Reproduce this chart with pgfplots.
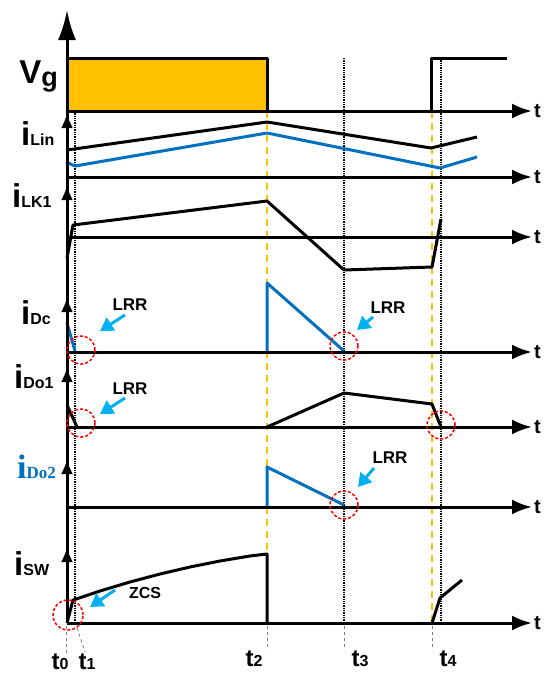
\documentclass[border=0pt]{standalone}
\usepackage{pgfplots}
\pgfplotsset{compat=1.18}
\usepackage{fontspec}
\setmainfont{Liberation Sans}
\newfontfamily\serifbf{Liberation Serif}
\usetikzlibrary{arrows.meta}
\definecolor{vorange}{HTML}{FFC000}
\definecolor{vblue}{HTML}{0070C0}
\definecolor{vcyan}{HTML}{00B0F0}
\newcommand\rowlab[2]{{\fontsize{33}{33}\selectfont\bfseries #1}{\fontsize{16}{16}\selectfont\bfseries #2}}
\newcommand\tlab[1]{{\fontsize{24}{24}\selectfont\bfseries t}{\fontsize{16}{16}\selectfont\bfseries #1}}
\begin{document}
\begin{tikzpicture}
\begin{axis}[hide axis, scale only axis, width=549pt, height=675pt,
  xmin=0, xmax=549, ymin=0, ymax=675, y dir=reverse, clip=false]
\path (0,0) -- (549,675);
% time markers
\draw[black, densely dotted, line width=1.3pt] (75,58) -- (75,623);
\draw[black, densely dotted, line width=1.3pt] (344,58) -- (344,623);
\draw[black, densely dotted, line width=1.3pt] (441,58) -- (441,623);
\draw[vorange, dash pattern=on 7pt off 5pt, line width=2pt] (267,111) -- (267,623);
\draw[vorange, dash pattern=on 7pt off 5pt, line width=2pt] (432,111) -- (432,623);
% bottom grey dashed
\draw[gray, dashed, line width=0.8pt] (66,626) -- (66,654);
\draw[gray, dashed, line width=0.8pt] (77,628) -- (85,652);
\draw[gray, dashed, line width=0.8pt] (267,626) -- (267,650);
\draw[gray, dashed, line width=0.8pt] (344,626) -- (344,650);
\draw[gray, dashed, line width=0.8pt] (432,626) -- (432,650);
% Vg
\addplot[draw=none, fill=vorange] coordinates {(67,111)(67,58)(267,58)(267,111)(67,111)};
\addplot[black, line width=3pt, line join=round] coordinates {(67,58)(267,58)(267,111)};
\addplot[black, line width=3pt, line join=round] coordinates {(431,111)(431,58)(507,58)};
% iLin
\addplot[black, line width=3pt, line join=round] coordinates {(67,150)(267,122)(431,148)(477,137)};
\addplot[vblue, line width=3pt, line join=round] coordinates {(66,162)(75,166)(267,133)(440,168)(477,157)};
% iLK1
\addplot[black, line width=3pt, line join=round] coordinates {(67,258)(73,225)(267,201)(344,270)(432,267)(441,219)};
% iDc
\addplot[vblue, line width=3pt] coordinates {(67,323)(75,351)};
\addplot[vblue, line width=3pt, line join=round] coordinates {(267,352)(267,283)(344,351)};
% iDo1
\addplot[black, line width=3pt] coordinates {(67,405)(77,427)};
\addplot[black, line width=3pt, line join=round] coordinates {(267,427)(344,393)(432,404)(441,427)};
% iDo2
\addplot[vblue, line width=3pt, line join=round] coordinates {(267,507)(267,467)(344,505)};
% iSW
\addplot[black, line width=3pt, line join=round] coordinates {(67,623)(73,600)(100,591)(130,582)(160,574)(190,567)(220,561)(250,556)(267,554)(267,623)};
\addplot[black, line width=3pt, line join=round] coordinates {(432,623)(440,598)(462,580)};
% t axes
\foreach \yy in {111,177,237,352,427,507,623}{
  \edef\tmp{\noexpand\draw[black, line width=3pt, -{Latex[length=20pt,width=15pt]}] (67,\yy) -- (532,\yy);
  \noexpand\node[anchor=west, inner sep=0pt] at (534,\yy) {\noexpand\fontsize{20}{20}\noexpand\selectfont\noexpand\bfseries t};}
  \tmp
}
% vertical axis
\draw[black, line width=3pt, -{Latex[length=30pt,width=18pt]}] (67,623) -- (67,10);
\foreach \yy in {113,185,297,367,459,547}{
  \edef\tmp{\noexpand\draw[black, line width=3pt, -{Latex[length=15pt,width=12pt]}] (67,\yy+18) -- (67,\yy);}
  \tmp
}
% row labels
\node[anchor=base east, inner sep=0pt] at (58,83) {\fontsize{33}{33}\selectfont\bfseries V\raisebox{-3pt}{\fontsize{27}{27}\selectfont g}};
\node[anchor=base west, inner sep=0pt] at (21,145) {\rowlab{i}{Lin}};
\node[anchor=base west, inner sep=0pt] at (12,207) {\rowlab{i}{LK1}};
\node[anchor=base west, inner sep=0pt] at (21,324) {\rowlab{i}{Dc}};
\node[anchor=base west, inner sep=0pt] at (14,388) {\rowlab{i}{Do1}};
\node[anchor=base west, inner sep=0pt, text=vblue] at (17,478) {{\serifbf\fontsize{34}{34}\selectfont\bfseries i}{\serifbf\fontsize{17}{17}\selectfont\bfseries Do2}};
\node[anchor=base west, inner sep=0pt] at (14,575) {\rowlab{i}{SW}};
% red circles
\draw[red, densely dashed, line width=1.5pt] (81,350) circle[radius=14pt];
\draw[red, densely dashed, line width=1.5pt] (344,346) circle[radius=14pt];
\draw[red, densely dashed, line width=1.5pt] (81,423) circle[radius=14pt];
\draw[red, densely dashed, line width=1.5pt] (441,425) circle[radius=14pt];
\draw[red, densely dashed, line width=1.5pt] (344,505) circle[radius=14pt];
\draw[red, densely dashed, line width=1.5pt] (68,615) circle[radius=15pt];
% cyan arrows and texts
\draw[vcyan, line width=3pt, -{Triangle[length=13pt,width=15pt]}] (125,315) -- (100,331);
\draw[vcyan, line width=3pt, -{Triangle[length=13pt,width=15pt]}] (373,317) -- (357,330);
\draw[vcyan, line width=3pt, -{Triangle[length=13pt,width=15pt]}] (125,398) -- (100,414);
\draw[vcyan, line width=3pt, -{Triangle[length=13pt,width=15pt]}] (374,468) -- (358,487);
\draw[vcyan, line width=3pt, -{Triangle[length=13pt,width=15pt]}] (115,590) -- (90,607);
\node[anchor=base, inner sep=0pt] at (130,310) {\fontsize{17}{17}\selectfont\bfseries LRR};
\node[anchor=base, inner sep=0pt] at (388,313) {\fontsize{17}{17}\selectfont\bfseries LRR};
\node[anchor=base, inner sep=0pt] at (130,394) {\fontsize{17}{17}\selectfont\bfseries LRR};
\node[anchor=base, inner sep=0pt] at (390,463) {\fontsize{17}{17}\selectfont\bfseries LRR};
\node[anchor=base, inner sep=0pt] at (145,598) {\fontsize{16}{16}\selectfont\bfseries ZCS};
% bottom t labels
\node[anchor=base, inner sep=0pt] at (60,669) {\tlab{0}};
\node[anchor=base, inner sep=0pt] at (87,669) {\tlab{1}};
\node[anchor=base, inner sep=0pt] at (254,666) {\tlab{2}};
\node[anchor=base, inner sep=0pt] at (360,666) {\tlab{3}};
\node[anchor=base, inner sep=0pt] at (448,666) {\tlab{4}};
\end{axis}
\end{tikzpicture}
\end{document}
